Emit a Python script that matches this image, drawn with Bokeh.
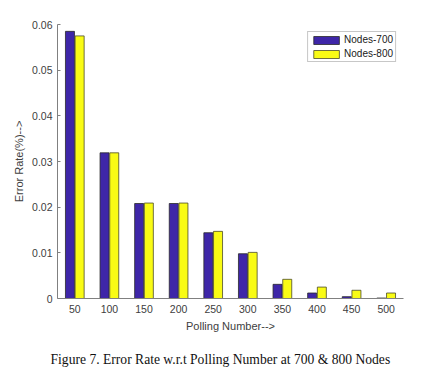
from bokeh.plotting import figure
from bokeh.models import ColumnDataSource, FactorRange, Range1d, Legend, LegendItem, Title
from bokeh.transform import dodge
from bokeh.embed import file_html
from bokeh.resources import INLINE

polling = ["50", "100", "150", "200", "250", "300", "350", "400", "450", "500"]
nodes_700 = [0.0585, 0.0319, 0.0208, 0.0208, 0.0144, 0.0098, 0.0031, 0.0012, 0.0004, 0.0001]
nodes_800 = [0.0575, 0.0319, 0.0209, 0.0209, 0.0147, 0.0101, 0.0042, 0.0025, 0.0018, 0.0012]
y_ticks = [0, 0.01, 0.02, 0.03, 0.04, 0.05, 0.06]

src = ColumnDataSource(dict(x=polling, a=nodes_700, b=nodes_800))

p = figure(frame_width=346, frame_height=274, output_backend="svg", toolbar_location=None,
           x_range=FactorRange(*polling, range_padding=0.0), y_range=Range1d(0, 0.06),
           min_border_left=57, min_border_right=16, min_border_top=24, min_border_bottom=14)
p.outline_line_color = None
p.xgrid.visible = False
p.ygrid.visible = False

r1 = p.vbar(x=dodge("x", -0.14, range=p.x_range), top="a", width=0.26, source=src,
            fill_color="#3E26A8", line_color="#2a2a2a", line_width=0.8)
r2 = p.vbar(x=dodge("x", 0.14, range=p.x_range), top="b", width=0.26, source=src,
            fill_color="#F9FB15", line_color="#4a4a2a", line_width=0.8)

axis_col = "#808080"
label_col = "#404040"
for ax in (p.xaxis[0], p.yaxis[0]):
    ax.axis_line_color = axis_col
    ax.major_tick_line_color = axis_col
    ax.minor_tick_line_color = None
    ax.major_label_text_color = label_col
    ax.major_label_text_font = "Liberation Sans"
    ax.major_label_text_font_size = "10.5px"
    ax.axis_label_text_color = label_col
    ax.axis_label_text_font = "Liberation Sans"
    ax.axis_label_text_font_size = "11px"
    ax.axis_label_text_font_style = "normal"
    ax.major_tick_out = 0

p.yaxis.ticker = y_ticks
p.yaxis.major_tick_in = 3
p.yaxis.major_label_standoff = 5
p.yaxis.axis_label = "Error Rate(%)-->"
p.yaxis.axis_label_standoff = 4
p.xaxis.major_tick_in = 0
p.xaxis.major_label_standoff = 6
p.xaxis.axis_label = "Polling Number-->"
p.xaxis.axis_label_standoff = 4

legend = Legend(items=[LegendItem(label="Nodes-700", renderers=[r1]),
                       LegendItem(label="Nodes-800", renderers=[r2])],
                location="top_right", margin=7, padding=2, spacing=3,
                glyph_width=32, glyph_height=10, label_height=10, label_standoff=2,
                label_text_font="Liberation Sans", label_text_font_size="10px",
                label_text_color="#202020",
                border_line_color="#909090", border_line_width=1,
                background_fill_alpha=1.0)
p.add_layout(legend)

cap = Title(text="Figure 7. Error Rate w.r.t Polling Number at 700 & 800 Nodes",
            align="left", offset=-7, text_font="Liberation Serif", text_font_size="13.6px",
            text_font_style="normal", text_color="#111111", standoff=31)
p.add_layout(cap, "below")

open("out.html", "w").write(file_html(p, INLINE))
